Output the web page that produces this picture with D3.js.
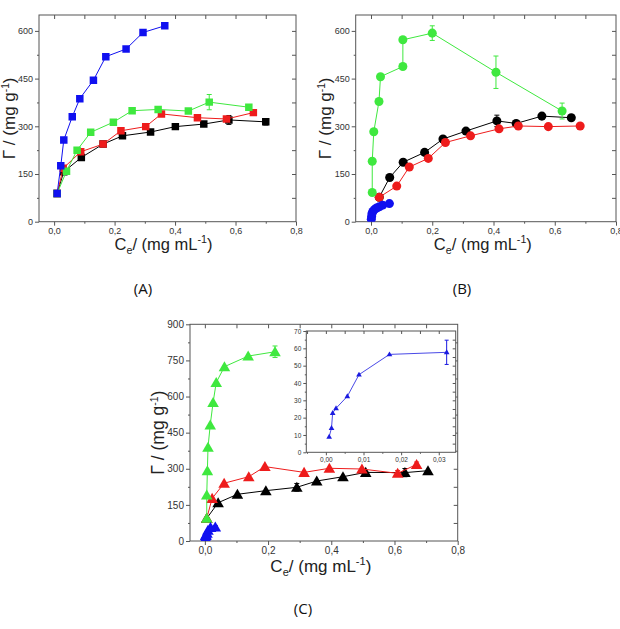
<!DOCTYPE html>
<html>
<head>
<meta charset="utf-8">
<script src="https://cdnjs.cloudflare.com/ajax/libs/d3/7.8.5/d3.min.js"></script>
<style>
  body { margin: 0; background: #fff; }
  svg text { font-family: "Liberation Sans", Arial, sans-serif; }
</style>
</head>
<body>
<div id="chart"></div>
<script>
(function(){
const width = 620;
const height = 629;

// tick values
const xTicksMain = [0, 0.2, 0.4, 0.6, 0.8];
const xMinorMain = [-0.1, 0.1, 0.3, 0.5, 0.7];
const yTicksAB = [0, 150, 300, 450, 600];
const yMinorAB = [75, 225, 375, 525];
const yTicksC = [0, 150, 300, 450, 600, 750, 900];
const yMinorC = [75, 225, 375, 525, 675, 825];
const xTicksInset = [0, 0.01, 0.02, 0.03];
const xMinorInset = [-0.005, 0.005, 0.015, 0.025];
const yTicksInset = [0, 10, 20, 30, 40, 50, 60, 70];
const yMinorInset = [5, 15, 25, 35, 45, 55, 65];

// panel A (squares)
const aBlueX  = [0.010, 0.022, 0.032, 0.060, 0.085, 0.130, 0.171, 0.238, 0.294, 0.366];
const aBlueY  = [89, 176, 257, 330, 387, 445, 519, 543, 595, 616];
const aBlueE  = [0, 0, 0, 0, 0, 0, 0, 0, 0, 0];
const aGreenX = [0.010, 0.041, 0.076, 0.121, 0.196, 0.258, 0.344, 0.444, 0.513, 0.644];
const aGreenY = [89, 159, 225, 281, 313, 349, 353, 348, 376, 360];
const aGreenE = [0, 0, 0, 0, 6, 0, 0, 6, 24, 0];
const aRedX   = [0.010, 0.030, 0.088, 0.162, 0.221, 0.303, 0.355, 0.474, 0.570, 0.659];
const aRedY   = [89, 168, 220, 244, 286, 299, 339, 327, 323, 343];
const aRedE   = [0, 0, 0, 0, 0, 0, 6, 0, 6, 0];
const aBlackX = [0.010, 0.032, 0.090, 0.162, 0.226, 0.319, 0.401, 0.495, 0.578, 0.700];
const aBlackY = [89, 157, 202, 244, 270, 282, 299, 307, 320, 314];
const aBlackE = [0, 0, 0, 0, 6, 0, 0, 0, 14, 10];

// panel B (circles)
const bGreenX = [0.004, 0.004, 0.009, 0.026, 0.031, 0.104, 0.104, 0.200, 0.408, 0.624];
const bGreenY = [92, 190, 283, 378, 456, 488, 572, 593, 470, 348];
const bGreenE = [0, 0, 0, 0, 0, 0, 0, 23, 51, 25];
const bBlackX = [0.027, 0.061, 0.105, 0.175, 0.235, 0.310, 0.411, 0.474, 0.558, 0.654];
const bBlackY = [77, 139, 187, 218, 260, 285, 317, 309, 332, 327];
const bBlackE = [0, 0, 0, 0, 0, 0, 18, 0, 0, 0];
const bRedX   = [0.027, 0.084, 0.125, 0.187, 0.243, 0.325, 0.418, 0.481, 0.579, 0.683];
const bRedY   = [77, 112, 172, 199, 249, 270, 292, 301, 299, 301];
const bRedE   = [0, 0, 0, 0, 0, 6, 0, 0, 0, 0];
const bBlueX  = [0.001, 0.002, 0.003, 0.006, 0.011, 0.018, 0.027, 0.038, 0.060];
const bBlueY  = [8, 16, 25, 32, 38, 43, 47, 52, 57];
const bBlueE  = [0, 0, 0, 0, 0, 0, 0, 0, 0];

// panel C (triangles)
const cGreenX = [0.006, 0.006, 0.008, 0.010, 0.017, 0.026, 0.036, 0.062, 0.137, 0.222];
const cGreenY = [94, 191, 292, 389, 482, 575, 658, 724, 768, 786];
const cGreenE = [0, 0, 0, 0, 0, 0, 0, 0, 0, 24];
const cRedX   = [0.006, 0.023, 0.061, 0.139, 0.190, 0.314, 0.394, 0.497, 0.610, 0.670];
const cRedY   = [94, 177, 240, 267, 309, 285, 302, 299, 281, 318];
const cRedE   = [0, 0, 0, 0, 0, 0, 0, 0, 12, 10];
const cBlackX = [0.006, 0.042, 0.103, 0.193, 0.291, 0.354, 0.437, 0.509, 0.633, 0.706];
const cBlackY = [94, 159, 194, 209, 223, 249, 267, 285, 284, 292];
const cBlackE = [0, 0, 0, 0, 16, 0, 0, 0, 17, 0];
// blue series = inset data
const cBlueX  = [0.00088, 0.0015, 0.0018, 0.0027, 0.0057, 0.0088, 0.0169, 0.0321];
const cBlueY  = [9.0, 14.0, 22.7, 25.4, 32.3, 44.8, 56.5, 57.7];
const cBlueE  = [0, 0, 0, 0, 0, 0, 0, 7];

const BLUE = "#1010f0", GREEN = "#3fe83f", RED = "#ee1c1c", BLACK = "#000000";

const svg = d3.select("#chart").append("svg")
  .attr("width", width)
  .attr("height", height);

function rows(xs, ys, es) {
  return xs.map((x, i) => ({x: x, y: ys[i], e: es[i]}));
}

const comma = d => d3.format(".1f")(d).replace(".", ",");
const comma2 = d => d3.format(".2f")(d).replace(".", ",");

function drawPanel(cfg) {
  const g = svg.append("g");
  const x = d3.scaleLinear().domain(cfg.xDomain).range([cfg.left, cfg.right]);
  const y = d3.scaleLinear().domain(cfg.yDomain).range([cfg.bottom, cfg.top]);
  const fs = cfg.fontSize;

  if (cfg.fill) {
    g.append("rect")
      .attr("x", cfg.left).attr("y", cfg.top)
      .attr("width", cfg.right - cfg.left).attr("height", cfg.bottom - cfg.top)
      .attr("fill", "#fff");
  }

  const tl = cfg.tickLen;
  // bottom
  g.append("g").attr("transform", `translate(0,${cfg.bottom})`)
    .call(d3.axisBottom(x).tickValues(cfg.xTicks).tickSize(tl).tickSizeOuter(0).tickFormat(cfg.xFormat).tickPadding(2));
  g.append("g").attr("transform", `translate(0,${cfg.bottom})`)
    .call(d3.axisBottom(x).tickValues(cfg.xMinor.filter(v => v >= cfg.xDomain[0])).tickSize(tl / 2).tickSizeOuter(0).tickFormat(""));
  // left
  g.append("g").attr("transform", `translate(${cfg.left},0)`)
    .call(d3.axisLeft(y).tickValues(cfg.yTicks).tickSize(tl).tickSizeOuter(0).tickFormat(d3.format("d")).tickPadding(2));
  g.append("g").attr("transform", `translate(${cfg.left},0)`)
    .call(d3.axisLeft(y).tickValues(cfg.yMinor).tickSize(tl / 2).tickSizeOuter(0).tickFormat(""));
  // top + right, inward
  g.append("g").attr("transform", `translate(0,${cfg.top})`)
    .call(d3.axisTop(x).tickValues(cfg.xTicks.concat(cfg.xMinor).filter(v => v > cfg.xDomain[0] && v < cfg.xDomain[1])).tickSize(-tl).tickSizeOuter(0).tickFormat(""));
  g.append("g").attr("transform", `translate(${cfg.right},0)`)
    .call(d3.axisRight(y).tickValues(cfg.yTicks.concat(cfg.yMinor).filter(v => v > cfg.yDomain[0] && v < cfg.yDomain[1])).tickSize(-tl).tickSizeOuter(0).tickFormat(""));

  g.selectAll(".domain").remove();
  g.selectAll(".tick line").attr("stroke", "#555");
  g.selectAll(".tick text").attr("fill", "#333").style("font-size", fs + "px");

  g.append("rect")
    .attr("x", cfg.left).attr("y", cfg.top)
    .attr("width", cfg.right - cfg.left).attr("height", cfg.bottom - cfg.top)
    .attr("fill", "none").attr("stroke", "#555").attr("stroke-width", 1);

  // series
  const clipId = "clip" + Math.round(cfg.left) + "_" + Math.round(cfg.top);
  g.append("clipPath").attr("id", clipId).append("rect")
    .attr("x", cfg.left).attr("y", cfg.top)
    .attr("width", cfg.right - cfg.left).attr("height", cfg.bottom - cfg.top);

  const line = d3.line().x(d => x(d.x)).y(d => y(d.y));
  cfg.series.forEach(s => {
    const sg = g.append("g").attr("clip-path", `url(#${clipId})`);
    sg.append("path").datum(s.data)
      .attr("d", line).attr("fill", "none")
      .attr("stroke", s.color).attr("stroke-width", cfg.lineW || 1);
    const eb = s.data.filter(d => d.e > 0);
    const cap = cfg.cap;
    eb.forEach(d => {
      const x0 = x(d.x), y1 = y(d.y - d.e), y2 = y(d.y + d.e);
      sg.append("path")
        .attr("d", `M${x0},${y1}V${y2}M${x0 - cap},${y1}H${x0 + cap}M${x0 - cap},${y2}H${x0 + cap}`)
        .attr("stroke", s.color).attr("stroke-width", 1).attr("fill", "none");
    });
    const sym = d3.symbol().type(cfg.symbol).size(cfg.symSize);
    sg.selectAll("path.m").data(s.data).join("path")
      .attr("class", "m")
      .attr("transform", d => `translate(${x(d.x)},${y(d.y) + (cfg.symbol === d3.symbolTriangle ? cfg.symSize * 0.02 : 0)})`)
      .attr("d", sym)
      .attr("fill", s.color);
  });

  if (cfg.titles) {
    const cx = (cfg.left + cfg.right) / 2 + (cfg.xTitleDx || 0);
    const ts = cfg.titleSize;
    const t = g.append("text")
      .attr("x", cx).attr("y", cfg.bottom + cfg.xTitleOff)
      .attr("text-anchor", "middle").attr("fill", "#222")
      .style("font-size", ts + "px");
    t.append("tspan").text("C");
    t.append("tspan").attr("dy", 4).style("font-size", (ts * 0.65) + "px").text("e");
    t.append("tspan").attr("dy", -4).text("/ (mg mL");
    t.append("tspan").attr("dy", -7).style("font-size", (ts * 0.65) + "px").text("-1");
    t.append("tspan").attr("dy", 7).text(")");

    const ty = (cfg.top + cfg.bottom) / 2;
    const yt = g.append("text")
      .attr("transform", `translate(${cfg.left - cfg.yTitleOff},${ty}) rotate(-90)`)
      .attr("text-anchor", "middle").attr("fill", "#222")
      .style("font-size", (ts + 0.5) + "px");
    yt.append("tspan").text("\u0393 / (mg g");
    yt.append("tspan").attr("dy", -6).style("font-size", (ts * 0.62) + "px").text("-1");
    yt.append("tspan").attr("dy", 6).text(")");
  }
  return g;
}

drawPanel({
  left: 39, right: 296, top: 15, bottom: 221.7, titles: true,
  xDomain: [-0.05, 0.8], yDomain: [0, 650],
  xTicks: xTicksMain, xMinor: xMinorMain, yTicks: yTicksAB, yMinor: yMinorAB,
  xFormat: comma, fontSize: 9, tickLen: 4, cap: 2.5,
  symbol: d3.symbolSquare, symSize: 56,
  titleSize: 16.5, xTitleOff: 28, yTitleOff: 24, xTitleDx: -4,
  series: [
    {color: BLACK, data: rows(aBlackX, aBlackY, aBlackE)},
    {color: RED, data: rows(aRedX, aRedY, aRedE)},
    {color: GREEN, data: rows(aGreenX, aGreenY, aGreenE)},
    {color: BLUE, data: rows(aBlueX, aBlueY, aBlueE)}
  ]
});

drawPanel({
  left: 355.7, right: 616, top: 15, bottom: 221.7, titles: true,
  xDomain: [-0.05, 0.8], yDomain: [0, 650],
  xTicks: xTicksMain, xMinor: xMinorMain, yTicks: yTicksAB, yMinor: yMinorAB,
  xFormat: comma, fontSize: 9, tickLen: 4, cap: 2.5,
  symbol: d3.symbolCircle, symSize: 64,
  titleSize: 16.5, xTitleOff: 28, yTitleOff: 25, xTitleDx: -3,
  series: [
    {color: BLACK, data: rows(bBlackX, bBlackY, bBlackE)},
    {color: RED, data: rows(bRedX, bRedY, bRedE)},
    {color: GREEN, data: rows(bGreenX, bGreenY, bGreenE)},
    {color: BLUE, data: rows(bBlueX, bBlueY, bBlueE)}
  ]
});

drawPanel({
  left: 190, right: 457.7, top: 324.3, bottom: 541, titles: true,
  xDomain: [-0.047, 0.8], yDomain: [0, 900],
  xTicks: xTicksMain, xMinor: xMinorMain, yTicks: yTicksC, yMinor: yMinorC,
  xFormat: comma, fontSize: 10, tickLen: 4, cap: 2.5,
  symbol: d3.symbolTriangle, symSize: 58,
  titleSize: 17, xTitleOff: 31, yTitleOff: 26, xTitleDx: -3,
  series: [
    {color: BLACK, data: rows(cBlackX, cBlackY, cBlackE)},
    {color: RED, data: rows(cRedX, cRedY, cRedE)},
    {color: GREEN, data: rows(cGreenX, cGreenY, cGreenE)},
    {color: BLUE, data: rows(cBlueX.map(v => v + 0.001), cBlueY, cBlueE)}
  ]
});

// inset
drawPanel({
  left: 306.3, right: 455.7, top: 331, bottom: 452.3, fill: true,
  xDomain: [-0.0052, 0.0345], yDomain: [0, 70],
  xTicks: xTicksInset, xMinor: xMinorInset, yTicks: yTicksInset, yMinor: yMinorInset,
  xFormat: comma2, fontSize: 6.5, tickLen: 3, cap: 2,
  symbol: d3.symbolTriangle, symSize: 14, lineW: 0.8,
  series: [
    {color: "#1a1ae0", data: rows(cBlueX, cBlueY, cBlueE)}
  ]
});

// panel letters
const letters = [["(A)", 143, 294], ["(B)", 462, 294], ["(C)", 303, 614]];
svg.selectAll("text.lab").data(letters).join("text")
  .attr("class", "lab")
  .attr("x", d => d[1]).attr("y", d => d[2])
  .attr("text-anchor", "middle")
  .style("font-family", "'Open Sans', 'Liberation Sans', sans-serif")
  .style("font-size", "15px")
  .attr("fill", "#111")
  .text(d => d[0]);
})();
</script>
</body>
</html>
